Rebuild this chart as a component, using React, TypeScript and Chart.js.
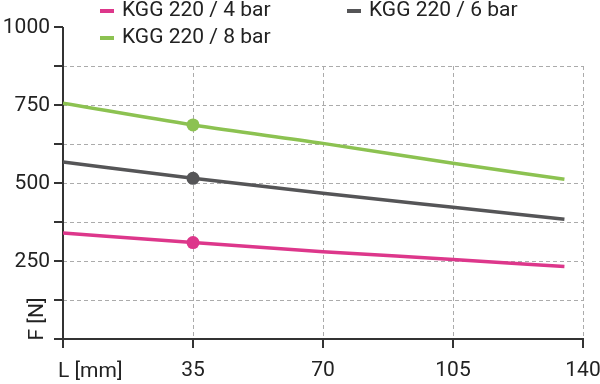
import React, { useEffect, useRef } from "react";
import { Chart, registerables } from "chart.js";

Chart.register(...registerables);

const xValues = [0, 35, 70, 105, 135];
const series4bar = [340, 309, 280, 255, 232];
const series6bar = [567, 515, 467, 422, 384];
const series8bar = [756, 686, 627, 563, 512];
const seriesNames = ["KGG 220 / 4 bar", "KGG 220 / 6 bar", "KGG 220 / 8 bar"];
const seriesColors = ["#dd378b", "#555557", "#8cc251"];
const markerX = 35;

const xTicks = [0, 35, 70, 105, 140];
const xTickLabels = ["", "35", "70", "105", "140"];
const yTicks = [0, 125, 250, 375, 500, 625, 750, 875, 1000];
const yTickLabels = ["", "", "250", "", "500", "", "750", "", "1000"];
const xTitle = "L [mm]";
const yTitle = "F [N]";

const FONT = "21px Roboto, 'DejaVu Sans', sans-serif";
const TEXT = "#222222";
const AXIS = "#333333";
const GRID = "#ababab";

const overlay = {
  id: "overlay",
  beforeDatasetsDraw(chart: any) {
    const ctx = chart.ctx;
    const xs = chart.scales.x;
    const ys = chart.scales.y;
    const area = chart.chartArea;
    ctx.save();
    // grid
    ctx.strokeStyle = GRID;
    ctx.lineWidth = 1;
    ctx.setLineDash([4, 3]);
    const gridTop = ys.getPixelForValue(875);
    const bottom = ys.getPixelForValue(0);
    yTicks.forEach((v) => {
      if (v === 0 || v === 1000) return;
      const y = Math.round(ys.getPixelForValue(v)) + 0.5;
      ctx.beginPath();
      ctx.moveTo(area.left, y);
      ctx.lineTo(xs.getPixelForValue(140), y);
      ctx.stroke();
    });
    xTicks.forEach((v) => {
      if (v === 0) return;
      const x = Math.round(xs.getPixelForValue(v)) + 0.5;
      ctx.beginPath();
      ctx.moveTo(x, gridTop);
      ctx.lineTo(x, bottom);
      ctx.stroke();
    });
    ctx.setLineDash([]);
    // axes
    ctx.strokeStyle = AXIS;
    ctx.lineWidth = 2;
    const left = xs.getPixelForValue(0);
    ctx.beginPath();
    ctx.moveTo(left, ys.getPixelForValue(1000));
    ctx.lineTo(left, bottom + 1);
    ctx.stroke();
    ctx.beginPath();
    ctx.moveTo(left - 1, bottom);
    ctx.lineTo(xs.getPixelForValue(140) + 1, bottom);
    ctx.stroke();
    // tick marks
    yTicks.forEach((v) => {
      const y = ys.getPixelForValue(v);
      ctx.beginPath();
      ctx.moveTo(left - 9, y);
      ctx.lineTo(left, y);
      ctx.stroke();
    });
    xTicks.forEach((v) => {
      const x = xs.getPixelForValue(v);
      ctx.beginPath();
      ctx.moveTo(x, bottom);
      ctx.lineTo(x, bottom + 9);
      ctx.stroke();
    });
    // tick labels
    ctx.fillStyle = TEXT;
    ctx.font = FONT;
    ctx.textBaseline = "middle";
    ctx.textAlign = "right";
    yTicks.forEach((v, i) => {
      const t = yTickLabels[i];
      if (!t) return;
      ctx.fillText(t, left - 13, ys.getPixelForValue(v) + 1);
    });
    ctx.textAlign = "center";
    xTicks.forEach((v, i) => {
      const t = xTickLabels[i];
      if (!t) return;
      ctx.fillText(t, xs.getPixelForValue(v), 371);
    });
    // titles
    ctx.textAlign = "left";
    ctx.fillText(xTitle, 58, 372);
    ctx.save();
    ctx.translate(38, 319);
    ctx.rotate(-Math.PI / 2);
    ctx.textAlign = "center";
    ctx.fillText(yTitle, 0, 0);
    ctx.restore();
    // legend
    const legendPos = [
      [100, 11],
      [347, 11],
      [100, 38],
    ];
    legendPos.forEach((p, i) => {
      ctx.fillStyle = seriesColors[i];
      ctx.fillRect(p[0], p[1] - 2, 14, 4);
      ctx.fillStyle = TEXT;
      ctx.textAlign = "left";
      ctx.fillText(seriesNames[i], p[0] + 22, p[1]);
    });
    ctx.restore();
  },
};

const toPoints = (vals: number[]) => xValues.map((x, i) => ({ x, y: vals[i] }));

export default function App() {
  const ref = useRef<HTMLCanvasElement | null>(null);
  useEffect(() => {
    if (!ref.current) return;
    const allSeries = [series4bar, series6bar, series8bar];
    const chart = new Chart(ref.current, {
      type: "line",
      data: {
        datasets: allSeries.map((s, i) => ({
          label: seriesNames[i],
          data: toPoints(s),
          borderColor: seriesColors[i],
          backgroundColor: seriesColors[i],
          borderWidth: 3.5,
          cubicInterpolationMode: "monotone" as const,
          pointRadius: xValues.map((x) => (x === markerX ? 6.5 : 0)),
          pointBorderWidth: 0,
          pointHoverRadius: 0,
          fill: false,
        })),
      },
      options: {
        animation: false,
        responsive: false,
        devicePixelRatio: 1,
        events: [],
        layout: { padding: { left: 63, right: 17, top: 27, bottom: 45 } },
        plugins: { legend: { display: false }, tooltip: { enabled: false } },
        scales: {
          x: { type: "linear", min: 0, max: 140, display: false },
          y: { type: "linear", min: 0, max: 1000, display: false },
        },
      },
      plugins: [overlay],
    });
    return () => chart.destroy();
  }, []);
  return (
    <div style={{ position: "fixed", left: 0, top: 0, width: 600, height: 384, background: "#fff" }}>
      <canvas ref={ref} width={600} height={384} style={{ width: 600, height: 384 }} />
    </div>
  );
}
